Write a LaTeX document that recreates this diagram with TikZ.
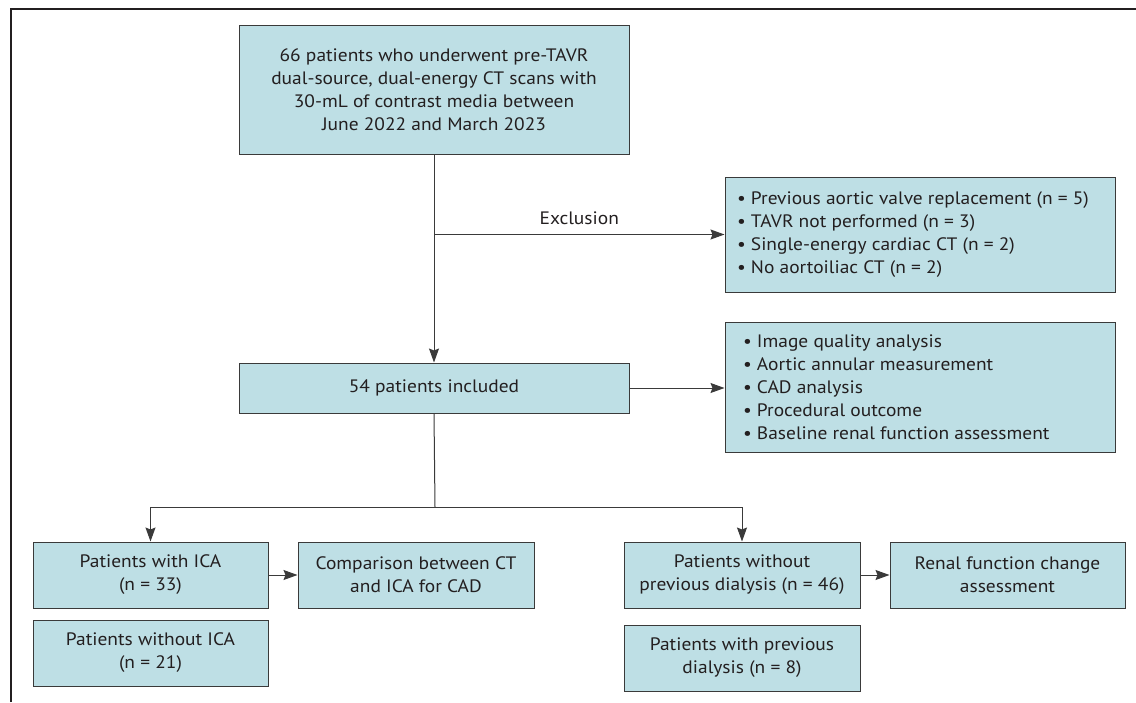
\documentclass[tikz,border=0pt]{standalone}
\usepackage{fontspec}
\setmainfont{PT Sans}[FakeStretch=1.08]
\usetikzlibrary{arrows.meta}
\definecolor{boxfill}{HTML}{BEDFE5}
\definecolor{boxline}{HTML}{3A3A3A}
\definecolor{txt}{HTML}{231F20}
\tikzset{
  box/.style={draw=boxline, line width=1pt, fill=boxfill, text=txt, inner sep=0pt,
    font=\fontsize{18}{23}\selectfont, align=center},
  conn/.style={draw=boxline, line width=1pt},
  arr/.style={conn, -{Stealth[length=14pt,width=10pt,inset=2pt]}},
  frame/.style={draw=txt, line width=1.5pt}
}
\begin{document}
\begin{tikzpicture}[x=1pt,y=-1pt]
\useasboundingbox (0,0) rectangle (1136,702);
% frame
\draw[frame] (11,702) -- (11,9) -- (1136,9);
% nodes
\node[box, minimum width=390pt, minimum height=129pt] (top) at (434,89.5)
  {66 patients who underwent pre-TAVR\\dual-source, dual-energy CT scans with\\30-mL of contrast media between\\June 2022 and March 2023};
\node[box, minimum width=390pt, minimum height=115pt] (excl) at (920,234.5)
  {\parbox{366pt}{\raggedright
  • Previous aortic valve replacement (n = 5)\\
  • TAVR not performed (n = 3)\\
  • Single-energy cardiac CT (n = 2)\\
  • No aortoiliac CT (n = 2)}};
\node[box, minimum width=390pt, minimum height=50pt] (inc) at (434,388)
  {54 patients included};
\node[box, minimum width=390pt, minimum height=130pt] (anal) at (920,387)
  {\parbox{354pt}{\raggedright
  • Image quality analysis\\
  • Aortic annular measurement\\
  • CAD analysis\\
  • Procedural outcome\\
  • Baseline renal function assessment}};
\node[box, minimum width=235pt, minimum height=66pt] (ica) at (150.5,575)
  {Patients with ICA\\(n = 33)};
\node[box, minimum width=236pt, minimum height=66pt] (comp) at (416,575)
  {Comparison between CT\\and ICA for CAD};
\node[box, minimum width=235pt, minimum height=66pt] (noica) at (150.5,653)
  {Patients without ICA\\(n = 21)};
\node[box, minimum width=236pt, minimum height=66pt] (nodial) at (742,575)
  {Patients without\\previous dialysis (n = 46)};
\node[box, minimum width=235pt, minimum height=66pt] (renal) at (1007.5,575)
  {Renal function change\\assessment};
\node[box, minimum width=236pt, minimum height=66pt] (dial) at (742,658)
  {Patients with previous\\dialysis (n = 8)};
% connectors
\coordinate (ex) at (top.south |- excl.west);
\draw[arr] (top.south) -- (inc.north);
\draw[arr] (ex) -- (excl.west) node[midway, above=6pt, text=txt, font=\fontsize{18}{23}\selectfont] (exlab) {Exclusion};
\draw[arr] (inc.east) -- (anal.west |- inc.east);
\coordinate (split) at (435,507);
\draw[conn] (inc.south) -- (split);
\draw[arr] (split) -| (ica.north);
\draw[arr] (split) -| (nodial.north);
\draw[arr] (ica.east) -- (comp.west |- ica.east);
\draw[arr] (nodial.east) -- (renal.west |- nodial.east);
\end{tikzpicture}
\end{document}
